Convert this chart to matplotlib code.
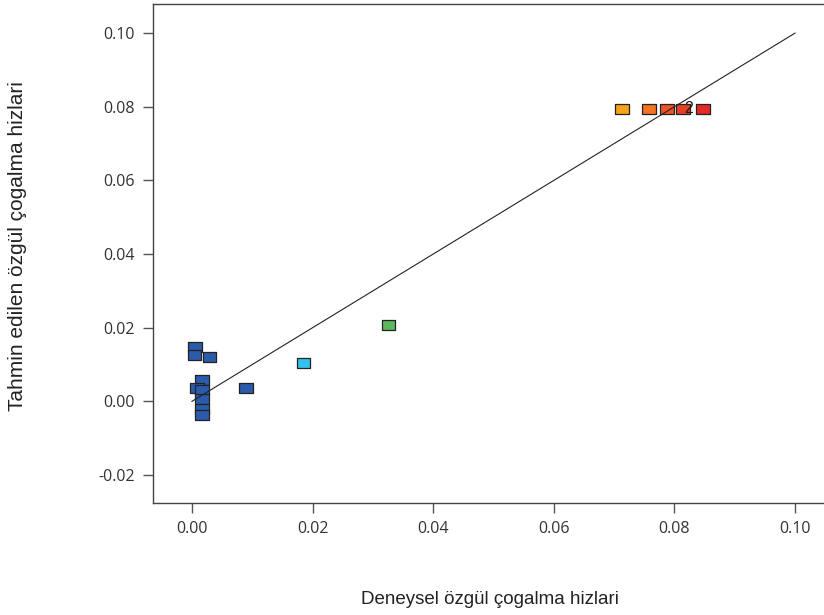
import matplotlib
matplotlib.use("Agg")
from matplotlib import pyplot as plt
from matplotlib import transforms
import numpy as np

# Experimental vs predicted specific growth rates
deneysel = [0.0005, 0.0004, 0.0029, 0.0017, 0.0008, 0.0017, 0.0017, 0.0017, 0.0017,
            0.0090, 0.0185, 0.0326, 0.0713, 0.0758, 0.0788, 0.0814, 0.0847]
tahmin = [0.0148, 0.0125, 0.0120, 0.0059, 0.0035, 0.0030, 0.0007, -0.0020, -0.0036,
          0.0036, 0.0105, 0.0207, 0.0795, 0.0795, 0.0795, 0.0795, 0.0795]
renkler = ["#2b5cab"] * 10 + ["#33c3ea", "#5cb85c", "#f7a21b", "#f27322", "#ec5523",
                               "#e83f27", "#e32b26"]
x_ticks = [0.00, 0.02, 0.04, 0.06, 0.08, 0.10]
y_ticks = [-0.02, 0.00, 0.02, 0.04, 0.06, 0.08, 0.10]
etiket_x, etiket_y, etiket = 0.0814, 0.0795, "2"

fig = plt.figure(figsize=(8.24, 6.15), dpi=100)
ax = fig.add_axes([153 / 824, 112 / 615, 671 / 824, 499 / 615])

# rectangle marker, wider than tall
kutu = [(-1.35, -1.0), (1.35, -1.0), (1.35, 1.0), (-1.35, 1.0), (-1.35, -1.0)]

# light shadow under each box
golge = ax.transData + transforms.ScaledTranslation(1 / 100, -1 / 100, fig.dpi_scale_trans)
ax.scatter(deneysel, tahmin, marker=kutu, s=95, c="#b0b0b0", edgecolors="none",
           transform=golge, zorder=2)
ax.scatter(deneysel, tahmin, marker=kutu, s=95, c=renkler, edgecolors="#222222",
           linewidths=0.9, zorder=3)

# 45 degree line
ax.plot([0, 0.1], [0, 0.1], color="#222222", linewidth=0.8, zorder=4)
# count label on the overlapping point
ax.text(etiket_x + 0.0009, etiket_y, etiket, fontsize=11.5, color="#1a1a1a",
        ha="center", va="center", family="Liberation Sans", zorder=5)

ax.set_xlim(-0.00646, 0.1048)
ax.set_ylim(-0.0276, 0.1079)
ax.set_xticks(x_ticks)
ax.set_yticks(y_ticks)
ax.set_xticklabels(["%.2f" % v for v in x_ticks])
ax.set_yticklabels(["%.2f" % v for v in y_ticks])
ax.tick_params(direction="out", length=7, width=1, color="#555555",
               labelsize=11.5, labelcolor="#333333", pad=6)
for lab in ax.get_xticklabels() + ax.get_yticklabels():
    lab.set_family("Open Sans")

for side in ("left", "bottom", "top"):
    ax.spines[side].set_color("#444444")
    ax.spines[side].set_linewidth(1.0)
ax.spines["right"].set_visible(False)

fig.text(490 / 824, 1 - 600 / 615, "Deneysel özgül çogalma hizlari", ha="center",
         va="center", fontsize=13.5, family="Liberation Sans", color="#222222")
fig.text(18 / 824, 1 - 246 / 615, "Tahmin edilen özgül çogalma hizlari", ha="center",
         va="center", rotation=90, fontsize=15, family="Liberation Sans", color="#222222")

fig.savefig("out.png", dpi=100)
